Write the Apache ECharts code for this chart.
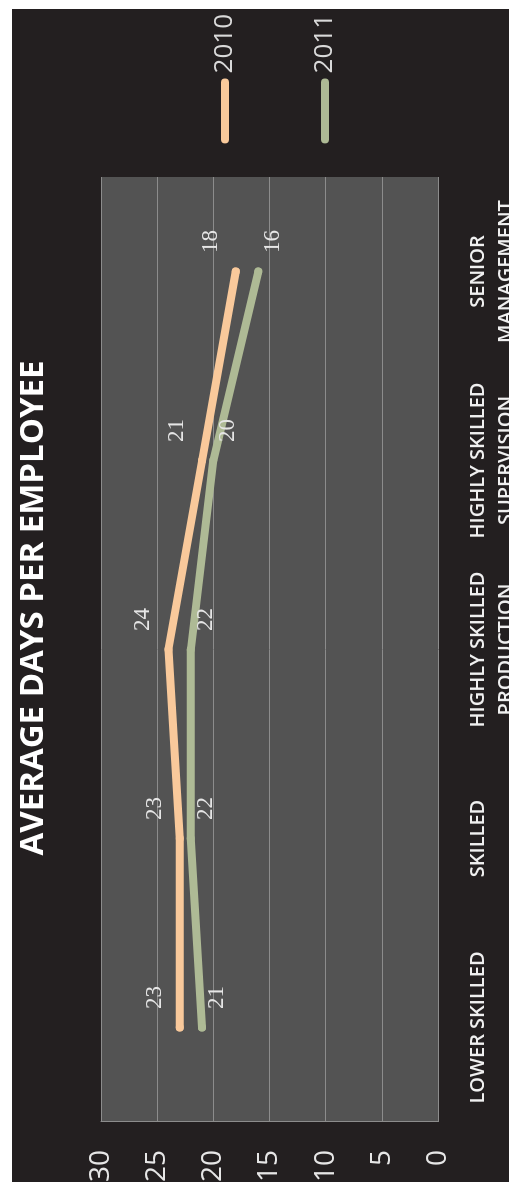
<!DOCTYPE html>
<html>
<head>
<meta charset="utf-8">
<title>Average days per employee</title>
<script src="https://cdn.jsdelivr.net/npm/echarts@6/dist/echarts.min.js"></script>
<style>
  html, body { margin: 0; padding: 0; background: #ffffff; overflow: hidden; width: 509px; height: 1182px; }
  /* The chart is laid out landscape and turned a quarter turn counter-clockwise */
  #chart {
    position: absolute;
    left: 12px;
    top: 1182px;
    width: 1173px;
    height: 497px;
    transform-origin: 0 0;
    transform: rotate(-90deg);
  }
</style>
</head>
<body>
<div id="chart"></div>
<script>
// Staff categories along the horizontal axis
const categories = [
  'LOWER SKILLED',
  'SKILLED',
  'HIGHLY SKILLED\nPRODUCTION',
  'HIGHLY SKILLED\nSUPERVISION',
  'SENIOR\nMANAGEMENT'
];

// Average days per employee, by year
const values2010 = [23, 23, 24, 21, 18];
const values2011 = [21, 22, 22, 20, 16];

// Value axis range and step
const valueMin = 0;
const valueMax = 30;
const valueStep = 5;

const titleText = 'AVERAGE DAYS PER EMPLOYEE';

const COLOR_2010 = '#F9C99B';
const COLOR_2011 = '#AEBA95';
const SANS = '"Open Sans", "Noto Sans", sans-serif';
const SERIF = '"Liberation Serif", "DejaVu Serif", serif';

const chart = echarts.init(document.getElementById('chart'), null, { renderer: 'canvas' });

// Rounded bar used as the legend swatch
const capsule = 'path://M4,0 L61,0 A4,4 0 0 1 61,8 L4,8 A4,4 0 0 1 4,0 Z';

function lineSeries(name, data, color, labelOffset) {
  return {
    name: name,
    type: 'line',
    data: data,
    symbol: 'circle',
    symbolSize: 8,
    showSymbol: true,
    itemStyle: { color: color, borderWidth: 0 },
    lineStyle: { color: color, width: 8, cap: 'round', join: 'round' },
    label: {
      show: true,
      position: 'inside',
      offset: labelOffset,
      color: '#e6e6e6',
      fontFamily: SERIF,
      fontSize: 23
    },
    emphasis: { disabled: true },
    animation: false
  };
}

chart.setOption({
  backgroundColor: '#231F20',
  animation: false,
  graphic: [{
    type: 'text',
    x: 574,
    y: 22,
    style: {
      text: titleText,
      fill: '#ffffff',
      font: 'bold 33px ' + SANS,
      align: 'center',
      verticalAlign: 'middle'
    }
  }],
  legend: {
    orient: 'vertical',
    right: 0,
    top: 195,
    itemWidth: 65,
    itemHeight: 8,
    itemGap: 74,
    icon: capsule,
    data: ['2010', '2011'],
    textStyle: { color: '#d9d9d9', fontFamily: SANS, fontSize: 26 },
    selectedMode: false
  },
  grid: {
    left: 60,
    right: 168,
    top: 89,
    bottom: 71,
    outerBoundsMode: 'none',
    containLabel: false,
    show: true,
    backgroundColor: '#535353',
    borderWidth: 0
  },
  xAxis: {
    type: 'category',
    data: categories,
    boundaryGap: true,
    axisLine: { show: false },
    axisTick: { show: false },
    splitLine: { show: false },
    axisLabel: {
      interval: 0,
      margin: 26,
      color: '#f0f0f0',
      fontFamily: SANS,
      fontWeight: 600,
      fontSize: 20,
      lineHeight: 28
    }
  },
  yAxis: {
    type: 'value',
    min: valueMin,
    max: valueMax,
    interval: valueStep,
    axisLine: { show: true, lineStyle: { color: '#8c8c8c', width: 1 } },
    axisTick: { show: false },
    splitLine: { show: true, lineStyle: { color: '#8c8c8c', width: 1 } },
    axisLabel: {
      margin: 28,
      color: '#e6e6e6',
      fontFamily: SANS,
      fontSize: 28
    }
  },
  series: [
    lineSeries('2010', values2010, COLOR_2010, [30, -25]),
    lineSeries('2011', values2011, COLOR_2011, [30, 15])
  ]
});
</script>
</body>
</html>
